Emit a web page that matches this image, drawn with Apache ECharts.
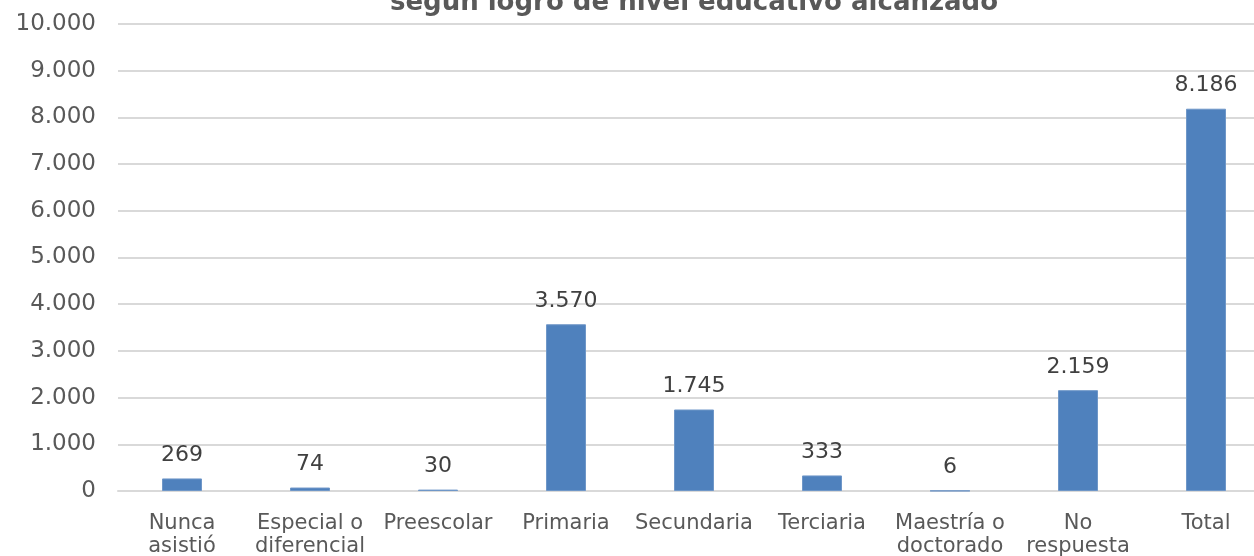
<!DOCTYPE html>
<html>
<head>
<meta charset="utf-8">
<script src="https://cdn.jsdelivr.net/npm/echarts@6/dist/echarts.min.js"></script>
<style>
html, body { margin: 0; padding: 0; background: #fff; overflow: hidden; }
#chart { width: 1270px; height: 556px; }
</style>
</head>
<body>
<div id="chart"></div>
<script>
var categories = ['Nunca\nasistió', 'Especial o\ndiferencial', 'Preescolar', 'Primaria', 'Secundaria',
	'Terciaria', 'Maestría o\ndoctorado', 'No\nrespuesta', 'Total'];
var values = [269, 74, 30, 3570, 1745, 333, 6, 2159, 8186];
var yTicks = { min: 0, max: 10000, interval: 1000 };

// separador de miles con punto
function fmt(v) {
	return String(v).replace(/\B(?=(\d{3})+(?!\d))/g, '.');
}

// el área de trazado sigue más allá del borde derecho, como en el original
var chart = echarts.init(document.getElementById('chart'));
chart.setOption({
	animation: false,
	textStyle: { fontFamily: 'DejaVu Sans' },
	title: {
		text: 'según logro de nivel educativo alcanzado',
		left: 689,
		textAlign: 'center',
		top: -15,
		textStyle: { fontSize: 26, fontWeight: 'bold', color: '#595959', fontFamily: 'DejaVu Sans' }
	},
	grid: { left: 118, top: 24, right: 0, height: 467, containLabel: false, outerBoundsMode: 'none' },
	xAxis: {
		type: 'category',
		data: categories,
		axisLine: { lineStyle: { color: '#d9d9d9', width: 2 } },
		axisTick: { show: false },
		axisLabel: { interval: 0, fontSize: 21, color: '#595959', margin: 21, lineHeight: 23 }
	},
	yAxis: {
		type: 'value',
		min: yTicks.min,
		max: yTicks.max,
		interval: yTicks.interval,
		axisLine: { show: false },
		axisTick: { show: false },
		splitLine: { lineStyle: { color: '#d9d9d9', width: 2 } },
		axisLabel: { fontSize: 23, color: '#595959', margin: 22, formatter: fmt }
	},
	series: [{
		type: 'bar',
		data: values,
		barWidth: 40,
		itemStyle: { color: '#4f81bd', borderColor: '#6f97c8', borderWidth: 1 },
		label: {
			show: true,
			position: 'top',
			distance: 12,
			fontSize: 22,
			color: '#404040',
			formatter: function (p) { return fmt(p.value); }
		}
	}]
});
</script>
</body>
</html>
